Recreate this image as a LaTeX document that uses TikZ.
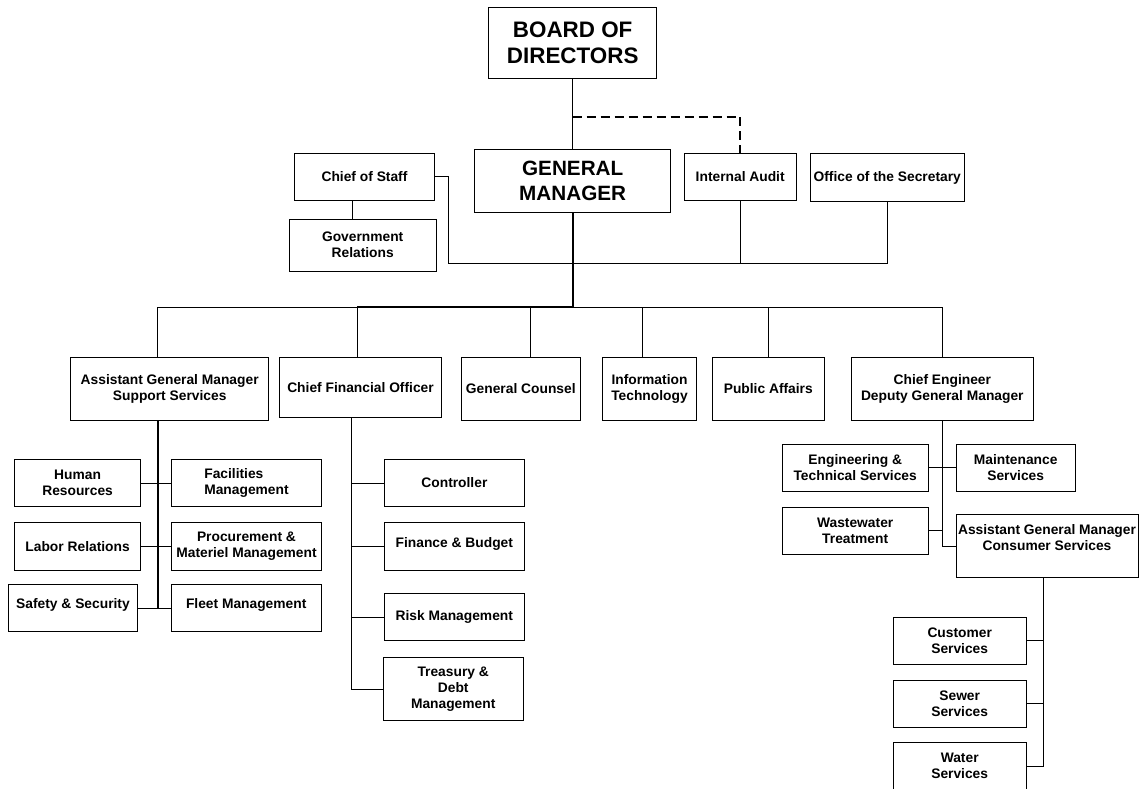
\documentclass[tikz,border=0pt]{standalone}
\usepackage{fontspec}
\setmainfont{Liberation Sans}

\begin{document}
\begin{tikzpicture}[
            x=1pt, y=-1pt,
            unit/.style={rectangle,draw,fill=white,minimum height=#1,
                inner sep=0pt, outer sep=0pt, align=center, line width=0.7pt,
                font=\bfseries\fontsize{13.8}{16}\selectfont},
            unit/.default=47.4pt,
            link/.style={line width=0.7pt},
            trunk/.style={line width=2pt}
        ]
        \useasboundingbox (0,0) rectangle (1141,789);

        \node[unit=71pt, minimum width=168pt, font=\bfseries\fontsize{22.4}{26.7}\selectfont] (board) at (572.7,42.8) {BOARD OF\\DIRECTORS};
        \node[unit=63pt, minimum width=196pt, font=\bfseries\fontsize{20.7}{25}\selectfont] (gm) at (572.7,180.5) {GENERAL\\MANAGER};
        \node[unit, minimum width=140pt] (staff) at (364.5,176.8) {Chief of Staff};
        \node[unit=52pt, minimum width=146.5pt] (govrel) at (362.7,245) {Government\\Relations};
        \node[unit, minimum width=112pt] (audit) at (740.2,176.8) {Internal Audit};
        \node[unit=48pt, minimum width=154pt] (secretary) at (887.2,177.5) {Office of the Secretary};

        \node[unit=63pt, minimum width=198pt] (agmsupport) at (169.7,388.7) {Assistant General Manager\\Support Services};
        \node[unit=60pt, minimum width=162.5pt] (cfo) at (360.5,387.3) {Chief Financial Officer};
        \node[unit=63pt, minimum width=119pt] (counsel) at (520.8,388.7) {General Counsel};
        \node[unit=63pt, minimum width=93.6pt] (infotech) at (649.5,388.7) {Information\\Technology};
        \node[unit=63pt, minimum width=112pt] (pubaffairs) at (768.3,388.7) {Public Affairs};
        \node[unit=63pt, minimum width=182pt] (chiefeng) at (942.3,388.7) {Chief Engineer\\Deputy General Manager};

        \node[unit, minimum width=125.6pt] (hr) at (77.6,483) {Human\\Resources};
        \node[unit, minimum width=150pt, align=left] (facilities) at (246.5,483) {Facilities\\Management};
        \node[unit, minimum width=125.6pt] (labor) at (77.6,546.3) {Labor Relations};
        \node[unit, minimum width=150pt] (procurement) at (246.5,546.3) {Procurement \&\\Materiel Management};
        \node[unit, minimum width=129.4pt, text depth=9pt] (safety) at (73,608) {Safety \& Security};
        \node[unit, minimum width=150pt, text depth=9pt] (fleet) at (246.2,608) {Fleet Management};

        \node[unit, minimum width=139.8pt] (controller) at (454.4,483) {Controller};
        \node[unit, minimum width=139.5pt, text depth=8pt] (finance) at (454.3,546.3) {Finance \& Budget};
        \node[unit, minimum width=139.5pt] (risk) at (454.3,617) {Risk Management};
        \node[unit=62.3pt, minimum width=140pt] (treasury) at (453.2,688.9) {Treasury \&\\Debt\\Management};

        \node[unit, minimum width=146.3pt] (engtech) at (855.2,467.7) {Engineering \&\\Technical Services};
        \node[unit, minimum width=119.3pt] (maint) at (1015.7,467.7) {Maintenance\\Services};
        \node[unit=47pt, minimum width=146.3pt] (wastewater) at (855.2,530.5) {Wastewater\\Treatment};
        \node[unit=63pt, minimum width=182pt, text depth=18pt] (agmconsumer) at (1047,546.2) {Assistant General Manager\\Consumer Services};
        \node[unit, minimum width=133.3pt] (customer) at (959.7,640.7) {Customer\\Services};
        \node[unit, minimum width=133.3pt] (sewer) at (959.7,703.7) {Sewer\\Services};
        \node[unit, minimum width=133.3pt] (water) at (959.7,766.3) {Water\\Services};

        \coordinate (dashfork) at (572.7,116.7);
        \coordinate (staffbus) at (448.6,263);
        \coordinate (mainbus) at (357,307.3);
        \coordinate (agmtrunk) at (157.7,307.3);
        \coordinate (cfotrunk) at (351.8,688.9);
        \coordinate (cstrunk) at (1043.3,766.3);

        \draw[link] (board.south) -- (gm.north);
        \draw[line width=1.8pt, dash pattern=on 9pt off 5pt] (dashfork) -| (audit.north);
        \draw[link] ([xshift=-12.3pt]staff.south) -- ([xshift=-12.3pt]staff.south |- govrel.north);
        \draw[link] (staff.east) -| (staffbus) -- (staffbus -| secretary.south) -- (secretary.south);
        \draw[link] (audit.south) -- (audit.south |- staffbus);

        \draw[link] (agmtrunk) -- (agmtrunk -| chiefeng.north) -- (chiefeng.north);
        \draw[link] (agmtrunk) -- (agmtrunk |- agmsupport.north);
        \draw[link] (mainbus) -- (mainbus |- cfo.north);
        \draw[link] ([xshift=9.9pt]counsel.north) -- ([xshift=9.9pt]counsel.north |- mainbus);
        \draw[link] ([xshift=-6.8pt]infotech.north) -- ([xshift=-6.8pt]infotech.north |- mainbus);
        \draw[link] (pubaffairs.north) -- (pubaffairs.north |- mainbus);
        \draw[trunk] (gm.south) |- (mainbus);

        \draw[trunk] (agmsupport.south -| agmtrunk) -- (agmtrunk |- fleet.west);
        \draw[link] (hr.east) -- (facilities.west);
        \draw[link] (labor.east) -- (procurement.west);
        \draw[link] (safety.east) -- (fleet.west);

        \draw[link] (cfo.south -| cfotrunk) -- (cfotrunk) -- (treasury.west);
        \draw[link] (controller.west) -- (controller.west -| cfotrunk);
        \draw[link] (finance.west) -- (finance.west -| cfotrunk);
        \draw[link] (risk.west) -- (risk.west -| cfotrunk);

        \draw[link] (chiefeng.south) |- (agmconsumer.west);
        \draw[link] (engtech.east) -- (maint.west);
        \draw[link] (wastewater.east) -- (wastewater.east -| chiefeng.south);

        \draw[link] (agmconsumer.south -| cstrunk) -- (cstrunk) -- (water.east);
        \draw[link] (customer.east) -- (customer.east -| cstrunk);
        \draw[link] (sewer.east) -- (sewer.east -| cstrunk);
    \end{tikzpicture}
\end{document}
